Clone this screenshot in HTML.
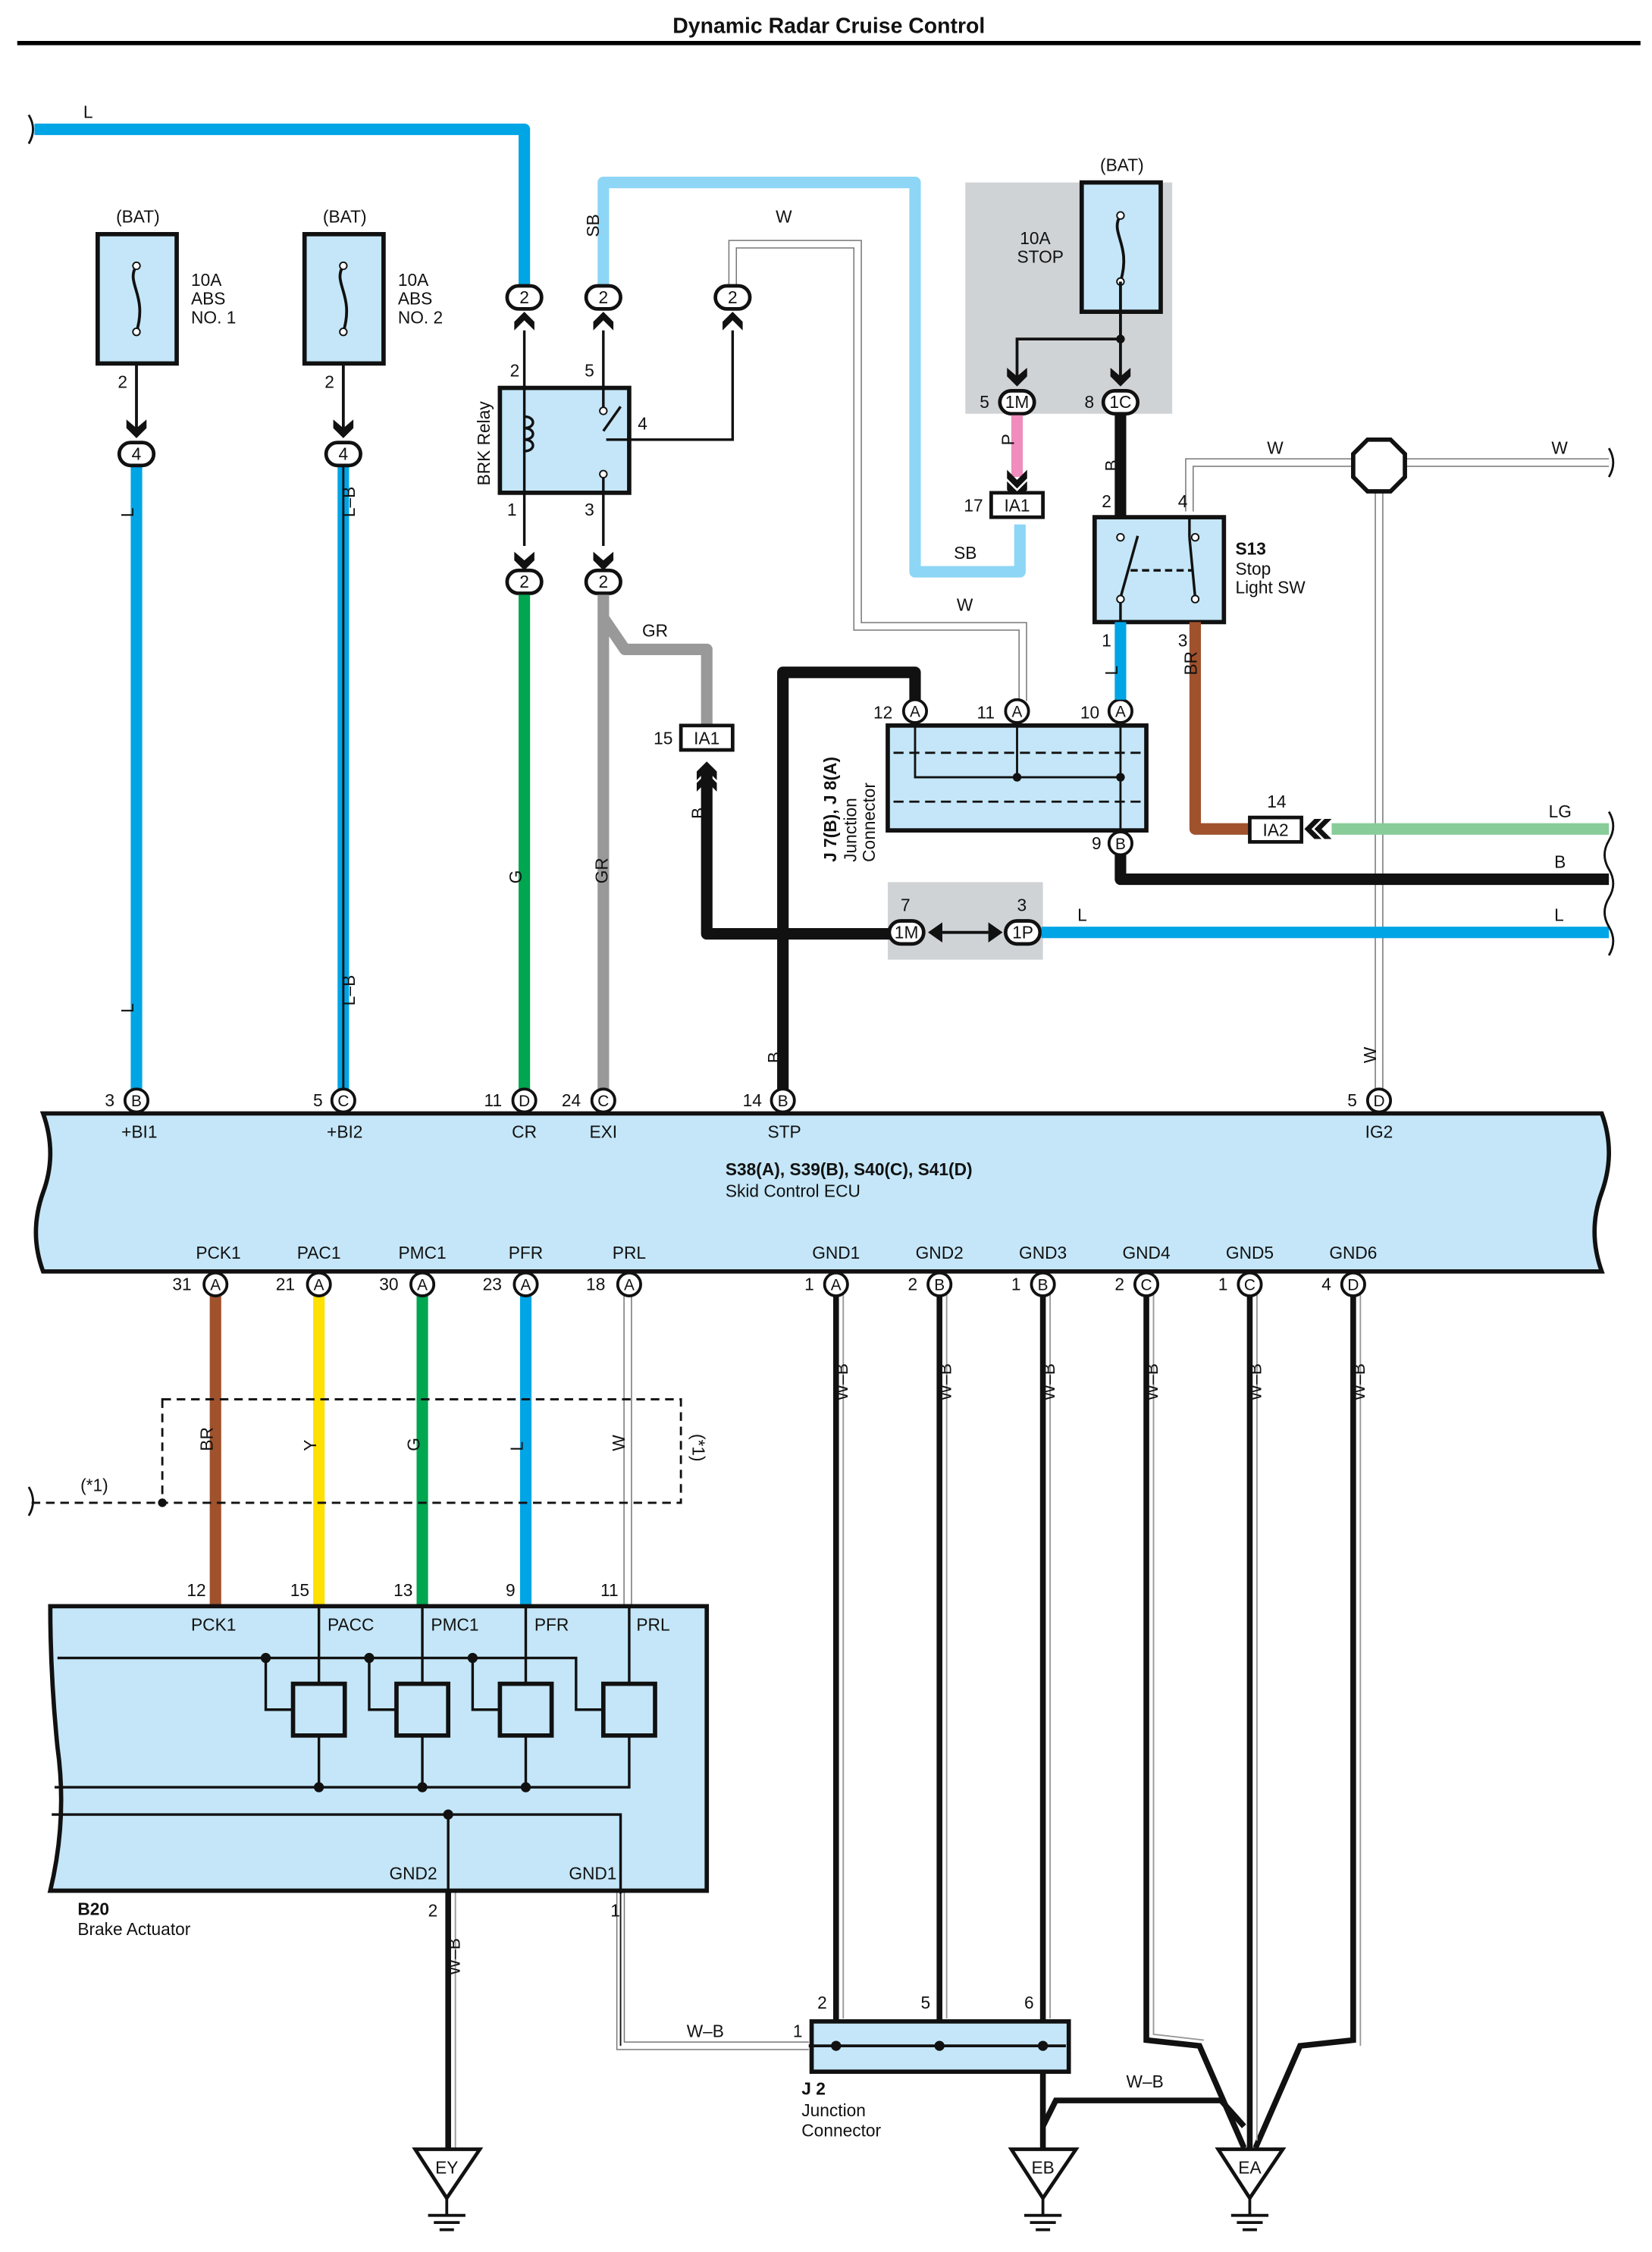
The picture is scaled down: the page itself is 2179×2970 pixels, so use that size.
<!DOCTYPE html>
<html><head><meta charset="utf-8"><style>
html,body{margin:0;padding:0;background:#fff;}
svg{display:block;}
text{font-family:"Liberation Sans",sans-serif;font-size:12px;fill:#111;}
.c{text-anchor:middle;}
</style></head><body>
<svg width="2179" height="2970" viewBox="0 0 1150 1567.5" preserveAspectRatio="none" xmlns="http://www.w3.org/2000/svg">
<defs>
<g id="arrD"><path d="M-7,-8 L0,-2 L7,-8 L7,-2 L0,5 L-7,-2 Z" fill="#111"/></g>
</defs>
<rect width="1150" height="1568" fill="#fff"/>
<text x="577" y="23" class="c" style="font-size:15px;font-weight:bold">Dynamic Radar Cruise Control</text>
<line x1="12" y1="30" x2="1142" y2="30" stroke="#000" stroke-width="3"/>

<!-- grey shaded areas -->
<rect x="672" y="127" width="144" height="161" fill="#d0d3d6"/>
<rect x="618" y="614" width="108" height="54" fill="#d0d3d6"/>

<!-- Top L wire -->
<path d="M24,90 L365,90 L365,200" fill="none" stroke="#00a5e6" stroke-width="8" stroke-linejoin="round"/>
<path d="M20,80 q6,10 0,20" fill="none" stroke="#111" stroke-width="1.5"/>
<text x="58" y="82">L</text>

<!-- SB -->
<path d="M420,200 L420,127 L637,127 L637,398 L710,398 L710,365" fill="none" stroke="#8dd6f5" stroke-width="8" stroke-linejoin="round"/>
<text x="412" y="170" transform="rotate(-90 412 165)" >SB</text>
<text x="664" y="389">SB</text>

<!-- W wires (double) -->
<g fill="none" stroke="#777" stroke-width="6">
<path d="M510,200 L510,170 L597,170 L597,436 L712,436 L712,488"/>
<path d="M828,356 L828,322 L1120,322"/>
<path d="M960,322 L960,765"/>
<path d="M437,885 L437,1118"/>
<path d="M432,1316 L432,1424 L563,1424"/>
</g>
<g fill="none" stroke="#fff" stroke-width="4.4">
<path d="M510,200 L510,170 L597,170 L597,436 L712,436 L712,488"/>
<path d="M828,356 L828,322 L1120,322"/>
<path d="M960,322 L960,765"/>
<path d="M437,885 L437,1118"/>
<path d="M432,1316 L432,1424 L563,1424"/>
</g>
<text x="540" y="155">W</text>
<text x="666" y="425">W</text>
<text x="882" y="316">W</text>
<text x="1080" y="316">W</text>
<text x="478" y="1418">W–B</text>

<!-- fuse boxes -->
<text x="96" y="155" class="c">(BAT)</text>
<rect x="68" y="163" width="55" height="90" fill="#c4e6f8" stroke="#111" stroke-width="3"/>
<path d="M95,185 c-8,12 8,20 0,46" fill="none" stroke="#111" stroke-width="2"/>
<circle cx="95" cy="185" r="2.5" fill="#fff" stroke="#111"/><circle cx="95" cy="231" r="2.5" fill="#fff" stroke="#111"/>
<text x="133" y="199">10A</text><text x="133" y="212">ABS</text><text x="133" y="225">NO. 1</text>
<text x="240" y="155" class="c">(BAT)</text>
<rect x="212" y="163" width="55" height="90" fill="#c4e6f8" stroke="#111" stroke-width="3"/>
<path d="M239,185 c-8,12 8,20 0,46" fill="none" stroke="#111" stroke-width="2"/>
<circle cx="239" cy="185" r="2.5" fill="#fff" stroke="#111"/><circle cx="239" cy="231" r="2.5" fill="#fff" stroke="#111"/>
<text x="277" y="199">10A</text><text x="277" y="212">ABS</text><text x="277" y="225">NO. 2</text>
<line x1="95" y1="253" x2="95" y2="300" stroke="#111" stroke-width="2"/>
<line x1="239" y1="253" x2="239" y2="300" stroke="#111" stroke-width="2"/>
<text x="82" y="270">2</text><text x="226" y="270">2</text>
<use href="#arrD" x="95" y="300"/><use href="#arrD" x="239" y="300"/>

<!-- L and L-B wires -->
<line x1="95" y1="325" x2="95" y2="765" stroke="#00a5e6" stroke-width="8"/>
<line x1="239" y1="325" x2="239" y2="765" stroke="#00a5e6" stroke-width="8"/>
<line x1="239" y1="325" x2="239" y2="765" stroke="#111" stroke-width="1.5"/>
<text x="88" y="365" transform="rotate(-90 88 360)">L</text>
<text x="88" y="710" transform="rotate(-90 88 705)">L</text>
<text x="232" y="375" transform="rotate(-90 232 360)">L–B</text>
<text x="232" y="715" transform="rotate(-90 232 700)">L–B</text>

<!-- ovals generic -->
<g fill="#fff" stroke="#111" stroke-width="2.5">
<rect x="83" y="308" width="24" height="16" rx="8"/>
<rect x="227" y="308" width="24" height="16" rx="8"/>
<rect x="353" y="199" width="24" height="16" rx="8"/>
<rect x="408" y="199" width="24" height="16" rx="8"/>
<rect x="498" y="199" width="24" height="16" rx="8"/>
<rect x="353" y="397" width="24" height="16" rx="8"/>
<rect x="408" y="397" width="24" height="16" rx="8"/>
</g>
<g class="c"><text x="95" y="320" class="c">4</text><text x="239" y="320" class="c">4</text>
<text x="365" y="211" class="c">2</text><text x="420" y="211" class="c">2</text><text x="510" y="211" class="c">2</text>
<text x="365" y="409" class="c">2</text><text x="420" y="409" class="c">2</text></g>
<!-- up arrows under ovals -->
<path d="M358,230 L365,223 L372,230 L372,224 L365,217 L358,224Z M420,217 L413,224 L413,230 L420,223 L427,230 L427,224Z M510,217 L503,224 L503,230 L510,223 L517,230 L517,224Z" fill="#111"/>
<use href="#arrD" x="365" y="392"/><use href="#arrD" x="420" y="392"/>

<!-- BRK relay -->
<rect x="348" y="270" width="90" height="73" fill="#c4e6f8" stroke="#111" stroke-width="3"/>
<g stroke="#111" stroke-width="1.8" fill="none">
<line x1="365" y1="230" x2="365" y2="380"/>
<line x1="420" y1="230" x2="420" y2="285"/><line x1="420" y1="330" x2="420" y2="380"/>
<line x1="420" y1="300" x2="432" y2="283"/>
<path d="M422,306 L510,306 L510,230"/>
<path d="M365,290 c8,0 8,8 0,8 c8,0 8,8 0,8 c8,0 8,8 0,8"/>
</g>
<circle cx="420" cy="286" r="2.5" fill="#fff" stroke="#111"/><circle cx="420" cy="330" r="2.5" fill="#fff" stroke="#111"/>
<text x="355" y="262">2</text><text x="407" y="262">5</text><text x="444" y="299">4</text>
<text x="353" y="359">1</text><text x="407" y="359">3</text>
<text x="341" y="338" transform="rotate(-90 341 338)">BRK Relay</text>

<!-- G and GR -->
<line x1="365" y1="414" x2="365" y2="765" stroke="#00a650" stroke-width="8"/>
<text x="358" y="620" transform="rotate(-90 358 615)">G</text>
<path d="M420,414 L420,765 M420,430 L435,452 L492,452 L492,505" fill="none" stroke="#999" stroke-width="8" stroke-linejoin="round"/>
<text x="447" y="443">GR</text>
<text x="413" y="625" transform="rotate(-90 413 615)">GR</text>
<rect x="474" y="505" width="36" height="17" fill="#fff" stroke="#111" stroke-width="2.5"/>
<text x="492" y="518" class="c">IA1</text><text x="455" y="518">15</text>

<!-- B from IA1 -->
<path d="M492,535 L492,650 L620,650" fill="none" stroke="#111" stroke-width="8" stroke-linejoin="round"/>
<path d="M485,537 L492,530 L499,537 L499,543 L492,536 L485,543Z M485,545 L492,538 L499,545 L499,551 L492,544 L485,551Z" fill="#111"/>
<text x="485" y="575" transform="rotate(-90 485 570)">B</text>
<!-- STP B -->
<path d="M545,765 L545,468 L637,468 L637,488" fill="none" stroke="#111" stroke-width="8" stroke-linejoin="round"/>
<text x="538" y="745" transform="rotate(-90 538 740)">B</text>

<!-- 1M 1P -->
<rect x="619" y="641" width="24" height="16" rx="8" fill="#fff" stroke="#111" stroke-width="2.5"/>
<rect x="700" y="641" width="24" height="16" rx="8" fill="#fff" stroke="#111" stroke-width="2.5"/>
<text x="631" y="653" class="c">1M</text><text x="712" y="653" class="c">1P</text>
<text x="627" y="634">7</text><text x="708" y="634">3</text>
<path d="M646,649 L656,642 L656,656Z M698,649 L688,642 L688,656Z" fill="#111"/>
<line x1="656" y1="649" x2="688" y2="649" stroke="#111" stroke-width="2"/>
<line x1="725" y1="649" x2="1120" y2="649" stroke="#00a5e6" stroke-width="8"/>
<text x="750" y="641">L</text><text x="1082" y="641">L</text>

<!-- J7 junction -->
<rect x="618" y="505" width="180" height="73" fill="#c4e6f8" stroke="#111" stroke-width="3"/>
<g stroke="#111" stroke-width="1.5" fill="none">
<line x1="622" y1="524" x2="794" y2="524" stroke-dasharray="7,4"/>
<line x1="622" y1="558" x2="794" y2="558" stroke-dasharray="7,4"/>
<path d="M637,503 L637,541 L780,541 L780,503"/>
<line x1="708" y1="503" x2="708" y2="541"/>
<line x1="780" y1="541" x2="780" y2="580"/>
</g>
<circle cx="708" cy="541" r="3" fill="#111"/><circle cx="780" cy="541" r="3" fill="#111"/>
<g fill="#fff" stroke="#111" stroke-width="2"><circle cx="637" cy="495" r="8"/><circle cx="708" cy="495" r="8"/><circle cx="780" cy="495" r="8"/><circle cx="780" cy="587" r="8"/></g>
<text x="637" y="499" class="c" style="font-size:11px">A</text><text x="708" y="499" class="c" style="font-size:11px">A</text><text x="780" y="499" class="c" style="font-size:11px">A</text><text x="780" y="591" class="c" style="font-size:11px">B</text>
<text x="608" y="500">12</text><text x="680" y="500">11</text><text x="752" y="500">10</text><text x="760" y="591">9</text>
<text x="582" y="600" transform="rotate(-90 582 600)" style="font-weight:bold">J 7(B), J 8(A)</text>
<text x="596" y="600" transform="rotate(-90 596 600)">Junction</text>
<text x="609" y="600" transform="rotate(-90 609 600)">Connector</text>

<!-- STOP fuse -->
<text x="781" y="119" class="c">(BAT)</text>
<rect x="753" y="127" width="55" height="90" fill="#c4e6f8" stroke="#111" stroke-width="3"/>
<path d="M780,150 c-8,12 8,20 0,46" fill="none" stroke="#111" stroke-width="2"/>
<circle cx="780" cy="150" r="2.5" fill="#fff" stroke="#111"/><circle cx="780" cy="196" r="2.5" fill="#fff" stroke="#111"/>
<text x="710" y="170">10A</text><text x="708" y="183">STOP</text>
<path d="M780,196 L780,265 M780,236 L708,236 L708,265" fill="none" stroke="#111" stroke-width="2"/>
<circle cx="780" cy="236" r="3" fill="#111"/>
<use href="#arrD" x="708" y="264"/><use href="#arrD" x="780" y="264"/>
<rect x="696" y="272" width="24" height="16" rx="8" fill="#fff" stroke="#111" stroke-width="2.5"/>
<rect x="768" y="272" width="24" height="16" rx="8" fill="#fff" stroke="#111" stroke-width="2.5"/>
<text x="708" y="284" class="c">1M</text><text x="780" y="284" class="c">1C</text>
<text x="682" y="284">5</text><text x="755" y="284">8</text>
<line x1="708" y1="289" x2="708" y2="332" stroke="#f08cbe" stroke-width="8"/>
<path d="M701,327 L708,334 L715,327 L715,333 L708,340 L701,333Z M701,335 L708,342 L715,335 L715,341 L708,348 L701,341Z" fill="#111"/>
<text x="701" y="315" transform="rotate(-90 701 310)">P</text>
<rect x="690" y="343" width="36" height="17" fill="#fff" stroke="#111" stroke-width="2.5"/>
<text x="708" y="356" class="c">IA1</text><text x="671" y="356">17</text>
<line x1="780" y1="289" x2="780" y2="360" stroke="#111" stroke-width="8"/>
<text x="773" y="333" transform="rotate(-90 773 328)">B</text>

<!-- S13 -->
<rect x="762" y="360" width="90" height="73" fill="#c4e6f8" stroke="#111" stroke-width="3"/>
<g stroke="#111" stroke-width="1.8" fill="none">
<line x1="780" y1="433" x2="780" y2="418"/>
<line x1="780" y1="416" x2="792" y2="373"/>
<line x1="828" y1="360" x2="828" y2="374"/><line x1="828" y1="374" x2="832" y2="416"/>
<line x1="787" y1="397" x2="830" y2="397" stroke-dasharray="5,3"/>
</g>
<circle cx="780" cy="374" r="2.5" fill="#fff" stroke="#111"/><circle cx="780" cy="417" r="2.5" fill="#fff" stroke="#111"/>
<circle cx="832" cy="374" r="2.5" fill="#fff" stroke="#111"/><circle cx="832" cy="417" r="2.5" fill="#fff" stroke="#111"/>
<text x="767" y="353">2</text><text x="820" y="353">4</text><text x="767" y="450">1</text><text x="820" y="450">3</text>
<text x="860" y="386" style="font-weight:bold">S13</text><text x="860" y="400">Stop</text><text x="860" y="413">Light SW</text>
<line x1="780" y1="433" x2="780" y2="487" stroke="#00a5e6" stroke-width="8"/>
<text x="773" y="475" transform="rotate(-90 773 470)">L</text>
<path d="M832,433 L832,577 L870,577" fill="none" stroke="#a0522d" stroke-width="8" stroke-linejoin="round"/>
<text x="825" y="478" transform="rotate(-90 825 470)">BR</text>
<rect x="870" y="569" width="36" height="17" fill="#fff" stroke="#111" stroke-width="2.5"/>
<text x="888" y="582" class="c">IA2</text><text x="882" y="562">14</text>
<path d="M915,570 L908,577 L915,584 L920,584 L913,577 L920,570Z M922,570 L915,577 L922,584 L927,584 L920,577 L927,570Z" fill="#111"/>
<line x1="927" y1="577" x2="1120" y2="577" stroke="#88cc99" stroke-width="8"/>
<text x="1078" y="569">LG</text>
<path d="M780,595 L780,612 L1120,612" fill="none" stroke="#111" stroke-width="8" stroke-linejoin="round"/>
<text x="1082" y="604">B</text>
<!-- octagon -->
<polygon points="952,306 968,306 978,316 978,332 968,342 952,342 942,332 942,316" fill="#fff" stroke="#111" stroke-width="3"/>
<text x="953" y="745" transform="rotate(-90 953 740)">W</text>
<g fill="none" stroke="#111" stroke-width="1.5">
<path d="M1120,565 q6,10 0,20 q-6,10 0,20 q6,10 0,20 q-6,10 0,20 q6,10 0,20"/>
<path d="M1120,312 q6,10 0,20"/>
<path d="M20,1035 q6,10 0,20"/>
</g>

<!-- ECU -->
<path d="M30,775 L1115,775 q10,27 0,55 q-10,27 0,55 L30,885 q-10,-27 0,-55 q10,-27 0,-55 Z" fill="#c4e6f8" stroke="#111" stroke-width="3"/>
<text x="505" y="818" style="font-weight:bold">S38(A), S39(B), S40(C), S41(D)</text>
<text x="505" y="833">Skid Control ECU</text>
<g fill="#fff" stroke="#111" stroke-width="2">
<circle cx="95" cy="766" r="8"/><circle cx="239" cy="766" r="8"/><circle cx="365" cy="766" r="8"/><circle cx="420" cy="766" r="8"/><circle cx="545" cy="766" r="8"/><circle cx="960" cy="766" r="8"/>
</g>
<g style="font-size:11px">
<text x="95" y="770" class="c" style="font-size:11px">B</text><text x="239" y="770" class="c" style="font-size:11px">C</text><text x="365" y="770" class="c" style="font-size:11px">D</text><text x="420" y="770" class="c" style="font-size:11px">C</text><text x="545" y="770" class="c" style="font-size:11px">B</text><text x="960" y="770" class="c" style="font-size:11px">D</text>
</g>
<text x="73" y="770">3</text><text x="218" y="770">5</text><text x="337" y="770">11</text><text x="391" y="770">24</text><text x="517" y="770">14</text><text x="938" y="770">5</text>
<text x="97" y="792" class="c">+BI1</text><text x="240" y="792" class="c">+BI2</text><text x="365" y="792" class="c">CR</text><text x="420" y="792" class="c">EXI</text><text x="546" y="792" class="c">STP</text><text x="960" y="792" class="c">IG2</text>

<!-- bottom ECU connectors -->
<text x="152" y="876" class="c">PCK1</text><text x="222" y="876" class="c">PAC1</text><text x="294" y="876" class="c">PMC1</text><text x="366" y="876" class="c">PFR</text><text x="438" y="876" class="c">PRL</text>
<text x="582" y="876" class="c">GND1</text><text x="654" y="876" class="c">GND2</text><text x="726" y="876" class="c">GND3</text><text x="798" y="876" class="c">GND4</text><text x="870" y="876" class="c">GND5</text><text x="942" y="876" class="c">GND6</text>

<!-- colored lower wires -->
<line x1="150" y1="900" x2="150" y2="1118" stroke="#a0522d" stroke-width="8"/>
<line x1="222" y1="900" x2="222" y2="1118" stroke="#ffe000" stroke-width="8"/>
<line x1="294" y1="900" x2="294" y2="1118" stroke="#00a650" stroke-width="8"/>
<line x1="366" y1="900" x2="366" y2="1118" stroke="#00a5e6" stroke-width="8"/>
<text x="143" y="1015" transform="rotate(-90 143 1010)">BR</text>
<text x="215" y="1015" transform="rotate(-90 215 1010)">Y</text>
<text x="287" y="1015" transform="rotate(-90 287 1010)">G</text>
<text x="359" y="1015" transform="rotate(-90 359 1010)">L</text>
<text x="430" y="1015" transform="rotate(-90 430 1010)">W</text>
<rect x="113" y="974" width="361" height="72" fill="none" stroke="#111" stroke-width="1.5" stroke-dasharray="6,4"/>
<line x1="22" y1="1046" x2="113" y2="1046" stroke="#111" stroke-width="1.5" stroke-dasharray="6,4"/>
<circle cx="113" cy="1046" r="3" fill="#111"/>
<text x="56" y="1038">(*1)</text>
<text x="482" y="998" transform="rotate(90 482 998)">(*1)</text>

<!-- W-B wires -->
<g fill="none" stroke="#111" stroke-width="4">
<path d="M582,900 L582,1425"/>
<path d="M654,900 L654,1425"/>
<path d="M726,900 L726,1500"/>
<path d="M798,900 L798,1420 L835,1424 L866,1495"/>
<path d="M870,900 L870,1495"/>
<path d="M942,900 L942,1420 L905,1424 L874,1495"/>
<path d="M726,1480 L735,1462 L850,1462 L866,1480"/>
<path d="M312,1263 L312,1495"/>
</g>
<g fill="none" stroke="#999" stroke-width="1">
<path d="M587,900 L587,1405"/>
<path d="M659,900 L659,1405"/>
<path d="M731,900 L731,1405"/>
<path d="M803,900 L803,1416 L838,1420"/>
<path d="M875,900 L875,1490"/>
<path d="M947,900 L947,1424"/>
<path d="M317,1316 L317,1495"/>
</g>
<text x="575" y="990" transform="rotate(-90 575 975)">W–B</text>
<text x="647" y="990" transform="rotate(-90 647 975)">W–B</text>
<text x="719" y="990" transform="rotate(-90 719 975)">W–B</text>
<text x="791" y="990" transform="rotate(-90 791 975)">W–B</text>
<text x="863" y="990" transform="rotate(-90 863 975)">W–B</text>
<text x="935" y="990" transform="rotate(-90 935 975)">W–B</text>
<text x="305" y="1390" transform="rotate(-90 305 1375)">W–B</text>
<text x="784" y="1453">W–B</text>

<g fill="#fff" stroke="#111" stroke-width="2">
<circle cx="150" cy="894" r="8"/><circle cx="222" cy="894" r="8"/><circle cx="294" cy="894" r="8"/><circle cx="366" cy="894" r="8"/><circle cx="438" cy="894" r="8"/>
<circle cx="582" cy="894" r="8"/><circle cx="654" cy="894" r="8"/><circle cx="726" cy="894" r="8"/><circle cx="798" cy="894" r="8"/><circle cx="870" cy="894" r="8"/><circle cx="942" cy="894" r="8"/>
</g>
<text x="150" y="898" class="c" style="font-size:11px">A</text><text x="222" y="898" class="c" style="font-size:11px">A</text><text x="294" y="898" class="c" style="font-size:11px">A</text><text x="366" y="898" class="c" style="font-size:11px">A</text><text x="438" y="898" class="c" style="font-size:11px">A</text>
<text x="582" y="898" class="c" style="font-size:11px">A</text><text x="654" y="898" class="c" style="font-size:11px">B</text><text x="726" y="898" class="c" style="font-size:11px">B</text><text x="798" y="898" class="c" style="font-size:11px">C</text><text x="870" y="898" class="c" style="font-size:11px">C</text><text x="942" y="898" class="c" style="font-size:11px">D</text>
<text x="120" y="898">31</text><text x="192" y="898">21</text><text x="264" y="898">30</text><text x="336" y="898">23</text><text x="408" y="898">18</text>
<text x="560" y="898">1</text><text x="632" y="898">2</text><text x="704" y="898">1</text><text x="776" y="898">2</text><text x="848" y="898">1</text><text x="920" y="898">4</text>

<!-- Brake actuator -->
<path d="M35,1118 L492,1118 L492,1316 L35,1316 q12,-50 5,-100 q-5,-50 -5,-98 Z" fill="#c4e6f8" stroke="#111" stroke-width="3"/>
<text x="130" y="1111">12</text><text x="202" y="1111">15</text><text x="274" y="1111">13</text><text x="352" y="1111">9</text><text x="418" y="1111">11</text>
<text x="133" y="1135">PCK1</text><text x="228" y="1135">PACC</text><text x="300" y="1135">PMC1</text><text x="372" y="1135">PFR</text><text x="443" y="1135">PRL</text>
<g stroke="#111" stroke-width="1.8" fill="none">
<path d="M40,1154 L401,1154 L401,1190 L420,1190"/>
<path d="M185,1154 L185,1190 L204,1190"/>
<path d="M257,1154 L257,1190 L276,1190"/>
<path d="M329,1154 L329,1190 L348,1190"/>
<line x1="222" y1="1118" x2="222" y2="1172"/><line x1="294" y1="1118" x2="294" y2="1172"/><line x1="366" y1="1118" x2="366" y2="1172"/><line x1="438" y1="1118" x2="438" y2="1172"/>
<line x1="222" y1="1208" x2="222" y2="1244"/><line x1="294" y1="1208" x2="294" y2="1244"/><line x1="366" y1="1208" x2="366" y2="1244"/>
<path d="M438,1208 L438,1244 L38,1244"/>
<path d="M36,1263 L432,1263 L432,1318"/>
<line x1="312" y1="1263" x2="312" y2="1318"/>
</g>
<g fill="#c4e6f8" stroke="#111" stroke-width="3">
<rect x="204" y="1172" width="36" height="36"/><rect x="276" y="1172" width="36" height="36"/><rect x="348" y="1172" width="36" height="36"/><rect x="420" y="1172" width="36" height="36"/>
</g>
<g fill="#111"><circle cx="185" cy="1154" r="3.5"/><circle cx="257" cy="1154" r="3.5"/><circle cx="329" cy="1154" r="3.5"/>
<circle cx="222" cy="1244" r="3.5"/><circle cx="294" cy="1244" r="3.5"/><circle cx="366" cy="1244" r="3.5"/><circle cx="312" cy="1263" r="3.5"/></g>
<text x="271" y="1308">GND2</text><text x="396" y="1308">GND1</text>
<text x="54" y="1333" style="font-weight:bold">B20</text><text x="54" y="1347">Brake Actuator</text>
<text x="298" y="1334">2</text><text x="425" y="1334">1</text>
<line x1="432" y1="1316" x2="432" y2="1424" stroke="#111" stroke-width="1"/>

<!-- J2 -->
<rect x="565" y="1407" width="179" height="35" fill="#c4e6f8" stroke="#111" stroke-width="3"/>
<line x1="563" y1="1424" x2="742" y2="1424" stroke="#111" stroke-width="2"/>
<g fill="#111"><circle cx="582" cy="1424" r="3.5"/><circle cx="654" cy="1424" r="3.5"/><circle cx="726" cy="1424" r="3.5"/></g>
<text x="569" y="1398">2</text><text x="641" y="1398">5</text><text x="713" y="1398">6</text><text x="552" y="1418">1</text>
<text x="558" y="1458" style="font-weight:bold">J 2</text><text x="558" y="1473">Junction</text><text x="558" y="1487">Connector</text>

<!-- grounds -->
<g stroke="#111" fill="#fff" stroke-width="2.5">
<polygon points="289,1496 334,1496 311,1530"/>
<polygon points="704,1496 749,1496 726,1530"/>
<polygon points="848,1496 893,1496 870,1530"/>
</g>
<text x="311" y="1513" class="c">EY</text><text x="726" y="1513" class="c">EB</text><text x="870" y="1513" class="c">EA</text>
<g stroke="#111" stroke-width="2">
<line x1="311" y1="1530" x2="311" y2="1542"/><line x1="298" y1="1542" x2="324" y2="1542"/><line x1="302" y1="1547" x2="320" y2="1547"/><line x1="306" y1="1552" x2="316" y2="1552"/>
<line x1="726" y1="1530" x2="726" y2="1542"/><line x1="713" y1="1542" x2="739" y2="1542"/><line x1="717" y1="1547" x2="735" y2="1547"/><line x1="721" y1="1552" x2="731" y2="1552"/>
<line x1="870" y1="1530" x2="870" y2="1542"/><line x1="857" y1="1542" x2="883" y2="1542"/><line x1="861" y1="1547" x2="879" y2="1547"/><line x1="865" y1="1552" x2="875" y2="1552"/>
</g>
</svg>
</body></html>
